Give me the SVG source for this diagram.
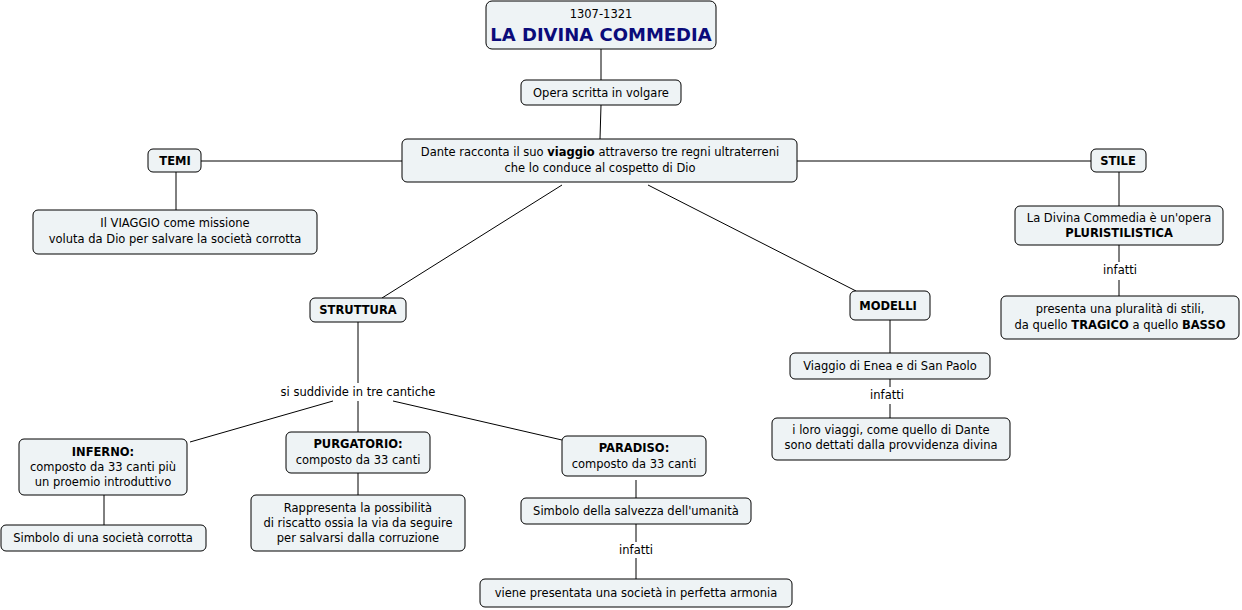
<svg xmlns="http://www.w3.org/2000/svg" width="1242" height="610" viewBox="0 0 1242 610">
<style>
rect{fill:#eef3f5;stroke:#000;stroke-width:1}
text{font-family:"DejaVu Sans",Verdana,sans-serif;font-size:11.5px;text-anchor:middle;fill:#000}
.b{font-weight:bold}
#conn line{stroke:#000;stroke-width:1}
</style>
<rect x="0" y="0" width="1242" height="610" style="fill:#fff;stroke:none"/>
<g id="conn">
<line x1="601" y1="49" x2="601" y2="80"/>
<line x1="601" y1="105" x2="600" y2="139"/>
<line x1="201" y1="161" x2="402" y2="161"/>
<line x1="797" y1="161" x2="1091" y2="161"/>
<line x1="176" y1="172" x2="176" y2="210"/>
<line x1="1119" y1="172" x2="1119" y2="206"/>
<line x1="1119" y1="245" x2="1119" y2="262"/>
<line x1="1119" y1="280" x2="1119" y2="296"/>
<line x1="562" y1="185" x2="382" y2="298"/>
<line x1="648" y1="185" x2="856" y2="291"/>
<line x1="358" y1="322" x2="358" y2="383"/>
<line x1="333" y1="401" x2="190" y2="442"/>
<line x1="358" y1="401" x2="358" y2="432"/>
<line x1="393" y1="401" x2="562" y2="440"/>
<line x1="104" y1="495" x2="104" y2="525"/>
<line x1="358" y1="473" x2="358" y2="495"/>
<line x1="636" y1="480" x2="636" y2="498"/>
<line x1="636" y1="524" x2="636" y2="542"/>
<line x1="636" y1="558" x2="636" y2="579"/>
<line x1="890" y1="320" x2="890" y2="353"/>
<line x1="890" y1="379" x2="890" y2="387"/>
<line x1="890" y1="404" x2="890" y2="418"/>
<text x="358" y="396">si suddivide in tre cantiche</text>
<text x="1120" y="274">infatti</text>
<text x="887" y="399">infatti</text>
<text x="636" y="554">infatti</text>
</g>
<g id="title"><rect x="486" y="1" width="230" height="48" rx="6"/>
<text x="601" y="18">1307-1321</text>
<text x="601" y="41" class="b" style="font-size:18px;fill:#0b0b7a;font-family:'Comic Sans MS','DejaVu Sans',sans-serif">LA DIVINA COMMEDIA</text></g>
<g id="opera"><rect x="521" y="80" width="160" height="25" rx="5"/><text x="601" y="97">Opera scritta in volgare</text></g>
<g id="dante"><rect x="402" y="139" width="395" height="43" rx="5"/>
<text x="600" y="156">Dante racconta il suo <tspan class="b">viaggio</tspan> attraverso tre regni ultraterreni</text>
<text x="600" y="172">che lo conduce al cospetto di Dio</text></g>
<g id="temi"><rect x="148" y="149" width="53" height="23" rx="5"/><text x="175" y="165" class="b">TEMI</text></g>
<g id="stile"><rect x="1091" y="149" width="55" height="23" rx="5"/><text x="1118" y="165" class="b">STILE</text></g>
<g id="viaggio"><rect x="33" y="210" width="284" height="44" rx="5"/>
<text x="175" y="227">Il VIAGGIO come missione</text><text x="175" y="243">voluta da Dio per salvare la società corrotta</text></g>
<g id="struttura"><rect x="310" y="298" width="96" height="24" rx="5"/><text x="358" y="314" class="b">STRUTTURA</text></g>
<g id="modelli"><rect x="850" y="291" width="80" height="29" rx="5"/><text x="888" y="310" class="b">MODELLI</text></g>
<g id="divina"><rect x="1015" y="206" width="208" height="39" rx="5"/>
<text x="1119" y="222">La Divina Commedia è un'opera</text><text x="1119" y="237" class="b">PLURISTILISTICA</text></g>
<g id="presenta"><rect x="1001" y="296" width="238" height="43" rx="5"/>
<text x="1120" y="313">presenta una pluralità di stili,</text>
<text x="1120" y="329">da quello <tspan class="b">TRAGICO</tspan> a quello <tspan class="b">BASSO</tspan></text></g>
<g id="enea"><rect x="790" y="353" width="200" height="26" rx="5"/><text x="890" y="370">Viaggio di Enea e di San Paolo</text></g>
<g id="loro"><rect x="772" y="418" width="238" height="42" rx="5"/>
<text x="891" y="434">i loro viaggi, come quello di Dante</text><text x="891" y="449">sono dettati dalla provvidenza divina</text></g>
<g id="inferno"><rect x="19" y="439" width="168" height="56" rx="5"/>
<text x="103" y="456" class="b">INFERNO:</text><text x="103" y="471">composto da 33 canti più</text><text x="103" y="486">un proemio introduttivo</text></g>
<g id="purgatorio"><rect x="286" y="432" width="144" height="41" rx="5"/>
<text x="358" y="448" class="b">PURGATORIO:</text><text x="358" y="464">composto da 33 canti</text></g>
<g id="paradiso"><rect x="562" y="436" width="144" height="40" rx="5"/>
<text x="634" y="452" class="b">PARADISO:</text><text x="634" y="468">composto da 33 canti</text></g>
<g id="corrotta"><rect x="1" y="525" width="205" height="26" rx="5"/><text x="103" y="542">Simbolo di una società corrotta</text></g>
<g id="rappresenta"><rect x="251" y="495" width="214" height="56" rx="5"/>
<text x="358" y="512">Rappresenta la possibilità</text><text x="358" y="527">di riscatto ossia la via da seguire</text><text x="358" y="542">per salvarsi dalla corruzione</text></g>
<g id="salvezza"><rect x="521" y="498" width="230" height="26" rx="5"/><text x="636" y="515">Simbolo della salvezza dell'umanità</text></g>
<g id="armonia"><rect x="480" y="579" width="312" height="28" rx="5"/><text x="636" y="597">viene presentata una società in perfetta armonia</text></g>
</svg>
